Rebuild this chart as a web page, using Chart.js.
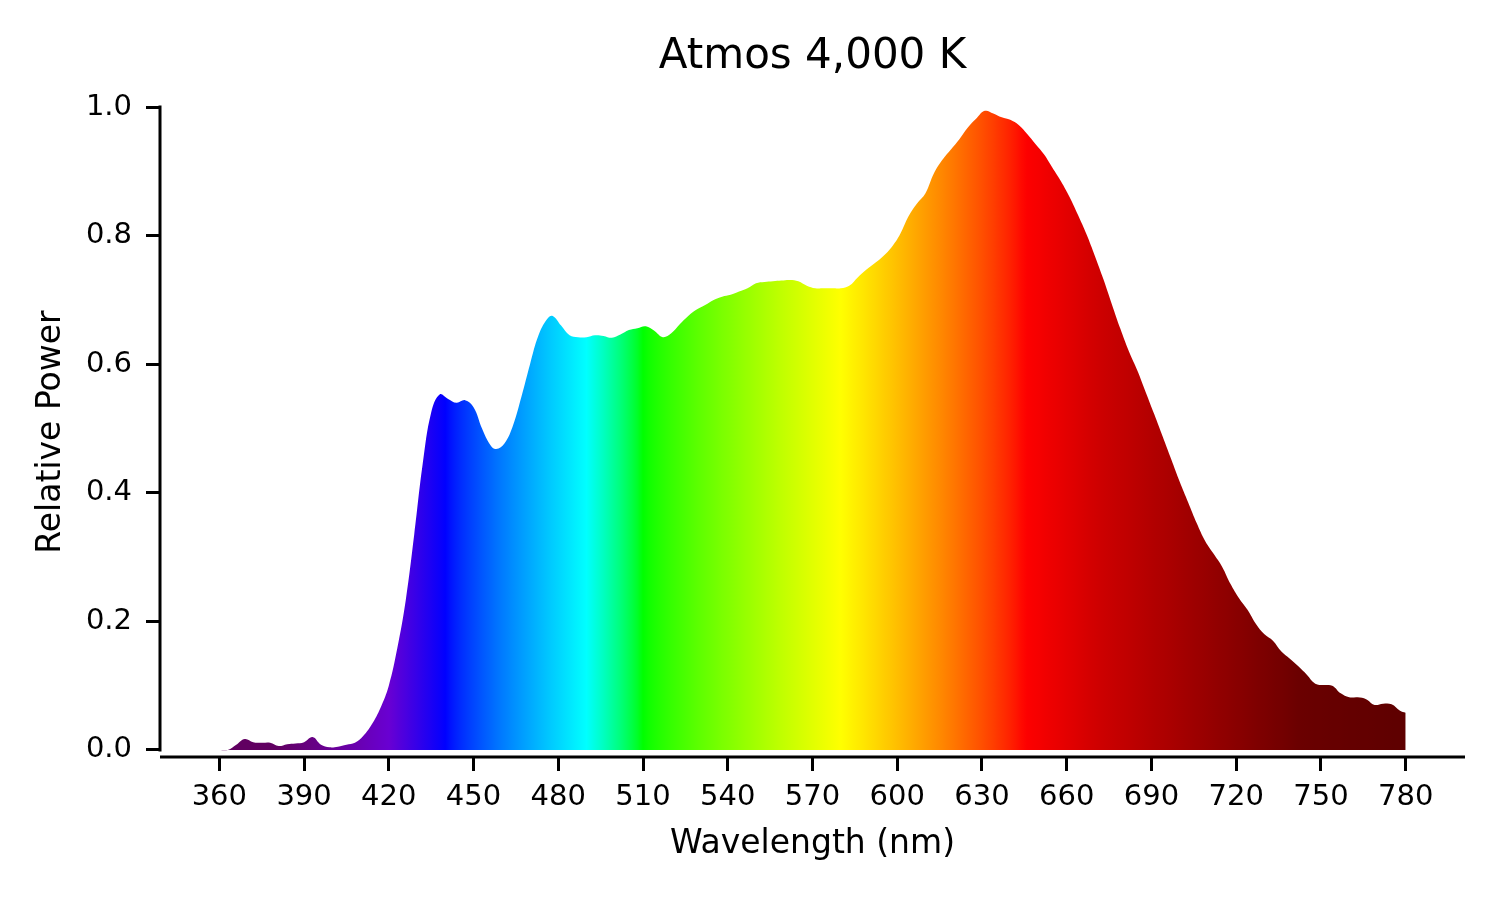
<!DOCTYPE html>
<html>
<head>
<meta charset="utf-8">
<title>Atmos 4,000 K</title>
<script src="https://cdn.jsdelivr.net/npm/chart.js@4.4.1/dist/chart.umd.min.js"></script>
<style>
  html, body { margin: 0; padding: 0; background: #fff; }
  #wrap { width: 1500px; height: 900px; }
</style>
</head>
<body>
<div id="wrap"><canvas id="spd" width="1500" height="900"></canvas></div>
<script>
// spectrum (nm, relative power)
const wavelengths = [
  360, 363, 366, 369, 372, 375, 378, 381, 384, 387, 390, 393, 396, 399, 402, 405, 408, 411, 414, 417,
  420, 423, 426, 429, 432, 435, 438, 441, 444, 447, 450, 453, 456, 458, 461, 464, 467, 470, 473, 476,
  478, 481, 484, 487, 490, 493, 496, 499, 502, 505, 508, 511, 514, 517, 520, 523, 526, 529, 532, 535,
  538, 541, 544, 547, 550, 553, 556, 559, 562, 565, 568, 571, 574, 577, 580, 583, 586, 589, 592, 595,
  598, 601, 604, 607, 610, 613, 616, 619, 622, 625, 628, 631, 634, 637, 640, 643, 646, 649, 652, 655,
  658, 661, 664, 667, 670, 673, 676, 679, 682, 685, 688, 691, 694, 697, 700, 703, 706, 709, 712, 715,
  718, 721, 724, 727, 730, 733, 736, 739, 742, 745, 748, 751, 754, 757, 760, 763, 766, 769, 772, 775,
  778, 780
];
const power = [
  0.000, 0.000, 0.008, 0.017, 0.012, 0.011, 0.011, 0.006, 0.009, 0.010, 0.012, 0.020, 0.008, 0.004, 0.005, 0.008, 0.011, 0.022, 0.040, 0.065,
  0.100, 0.158, 0.233, 0.335, 0.445, 0.525, 0.553, 0.546, 0.540, 0.544, 0.533, 0.500, 0.474, 0.468, 0.477, 0.505, 0.550, 0.600, 0.645, 0.670,
  0.675, 0.660, 0.645, 0.642, 0.642, 0.645, 0.644, 0.641, 0.646, 0.653, 0.656, 0.659, 0.652, 0.642, 0.648, 0.662, 0.675, 0.685, 0.692, 0.700,
  0.705, 0.708, 0.713, 0.718, 0.726, 0.728, 0.729, 0.730, 0.731, 0.729, 0.722, 0.718, 0.718, 0.718, 0.718, 0.722, 0.735, 0.747, 0.757, 0.768,
  0.782, 0.802, 0.830, 0.850, 0.866, 0.897, 0.918, 0.934, 0.950, 0.968, 0.982, 0.994, 0.990, 0.984, 0.980, 0.972, 0.958, 0.942, 0.926, 0.905,
  0.884, 0.860, 0.832, 0.802, 0.768, 0.732, 0.693, 0.655, 0.620, 0.590, 0.556, 0.522, 0.487, 0.452, 0.417, 0.385, 0.353, 0.325, 0.305, 0.285,
  0.258, 0.236, 0.218, 0.196, 0.180, 0.170, 0.153, 0.142, 0.130, 0.117, 0.103, 0.101, 0.100, 0.088, 0.082, 0.082, 0.079, 0.070, 0.072, 0.071,
  0.061, 0.058
];
const xTicks = [360, 390, 420, 450, 480, 510, 540, 570, 600, 630, 660, 690, 720, 750, 780];
const yTicks = [0.0, 0.2, 0.4, 0.6, 0.8, 1.0];

const FONT = 'DejaVu Sans';

// colour of the fill under each wavelength
const leftStops = [[360, [97, 0, 97]], [380, [97, 0, 97]], [400, [105, 0, 150]], [420, [105, 0, 210]], [440, [0, 0, 255]]];
const rightStops = [[645, [255, 0, 0]], [672, [205, 0, 0]], [707, [155, 0, 0]], [743, [106, 0, 0]], [780, [94, 0, 0]]];

function lerpStops(stops, w) {
    for (let i = 0; i < stops.length - 1; i++) {
        const [w0, c0] = stops[i], [w1, c1] = stops[i + 1];
        if (w >= w0 && w <= w1) {
            const t = (w - w0) / (w1 - w0);
            return c0.map((v, k) => Math.round(v + (c1[k] - v) * t));
        }
    }
    return stops[stops.length - 1][1];
}

function spectrumColor(w) {
    let rgb;
    if (w < 440) rgb = lerpStops(leftStops, w);
    else if (w > 645) rgb = lerpStops(rightStops, w);
    else {
        let r = 0, g = 0, b = 0;
        if (w < 490) { g = (w - 440) / 50; b = 1; }
        else if (w < 510) { g = 1; b = (510 - w) / 20; }
        else if (w < 580) { r = (w - 510) / 70; g = 1; }
        else { r = 1; g = (645 - w) / 65; }
        rgb = [r, g, b].map(v => Math.round(255 * Math.pow(v, 0.8)));
    }
    return 'rgb(' + rgb.join(',') + ')';
}

let gradCache = null;
function spectrumFill(context) {
    const chart = context.chart;
    if (!chart.chartArea) return 'rgba(0,0,0,0)';
    const x = chart.scales.x;
    const x0 = x.getPixelForValue(360), x1 = x.getPixelForValue(780);
    const key = x0 + ':' + x1;
    if (gradCache && gradCache.key === key) return gradCache.grad;
    const grad = chart.ctx.createLinearGradient(x0, 0, x1, 0);
    for (let w = 360; w <= 780; w += 2) {
        grad.addColorStop((w - 360) / 420, spectrumColor(w));
    }
    gradCache = { key, grad };
    return grad;
}

// matplotlib-like detached spines
const spines = {
    id: 'spines',
    afterDraw(chart) {
        const { ctx, chartArea } = chart;
        const y = chart.scales.y;
        ctx.save();
        ctx.strokeStyle = '#000';
        ctx.lineWidth = 3;
        ctx.beginPath();
        ctx.moveTo(chartArea.left, y.getPixelForValue(1.0) - 1.5);
        ctx.lineTo(chartArea.left, y.getPixelForValue(0.0) + 1.5);
        ctx.moveTo(chartArea.left, chartArea.bottom);
        ctx.lineTo(chartArea.right, chartArea.bottom);
        ctx.stroke();
        ctx.restore();
    }
};

const ctx = document.getElementById('spd');
const chart = new Chart(ctx, {
    type: 'line',
    data: {
        datasets: [{
            label: 'Relative Power',
            data: wavelengths.map((w, i) => ({ x: w, y: power[i] })),
            fill: 'origin',
            backgroundColor: spectrumFill,
            borderWidth: 0,
            borderColor: 'rgba(0,0,0,0)',
            pointRadius: 0,
            tension: 0.4,
        }]
    },
    options: {
        responsive: false,
        animation: false,
        devicePixelRatio: 1,
        layout: { padding: { left: 0, right: 35, top: 0, bottom: 0 } },
        plugins: {
            legend: { display: false },
            tooltip: { enabled: false },
            title: {
                display: true,
                fullSize: false,
                text: 'Atmos 4,000 K',
                color: '#000',
                font: { family: FONT, size: 42, weight: 'normal' },
                padding: { top: 32, bottom: 24.6 }
            }
        },
        scales: {
            x: {
                type: 'linear',
                min: 339,
                max: 801,
                afterFit(s) { s.height = 143; },
                afterBuildTicks(s) { s.ticks = xTicks.map(v => ({ value: v })); },
                border: { display: false },
                grid: { drawOnChartArea: false, drawTicks: true, tickLength: 14, color: '#000', lineWidth: 3 },
                ticks: {
                    autoSkip: false,
                    maxRotation: 0,
                    padding: 9,
                    color: '#000',
                    font: { family: FONT, size: 29 },
                    callback: v => String(v)
                },
                title: {
                    display: true,
                    text: 'Wavelength (nm)',
                    color: '#000',
                    font: { family: FONT, size: 33 },
                    padding: { bottom: 36 }
                }
            },
            y: {
                min: -0.011,
                max: 1.0,
                afterFit(s) { s.width = 160; },
                afterBuildTicks(s) { s.ticks = yTicks.map(v => ({ value: v })); },
                border: { display: false },
                grid: { drawOnChartArea: false, drawTicks: true, tickLength: 14, color: '#000', lineWidth: 3 },
                ticks: {
                    padding: 14,
                    color: '#000',
                    font: { family: FONT, size: 29 },
                    callback: v => v.toFixed(1)
                },
                title: {
                    display: true,
                    text: 'Relative Power',
                    color: '#000',
                    font: { family: FONT, size: 33 },
                    padding: { top: 32 }
                }
            }
        }
    },
    plugins: [spines]
});
</script>
</body>
</html>
